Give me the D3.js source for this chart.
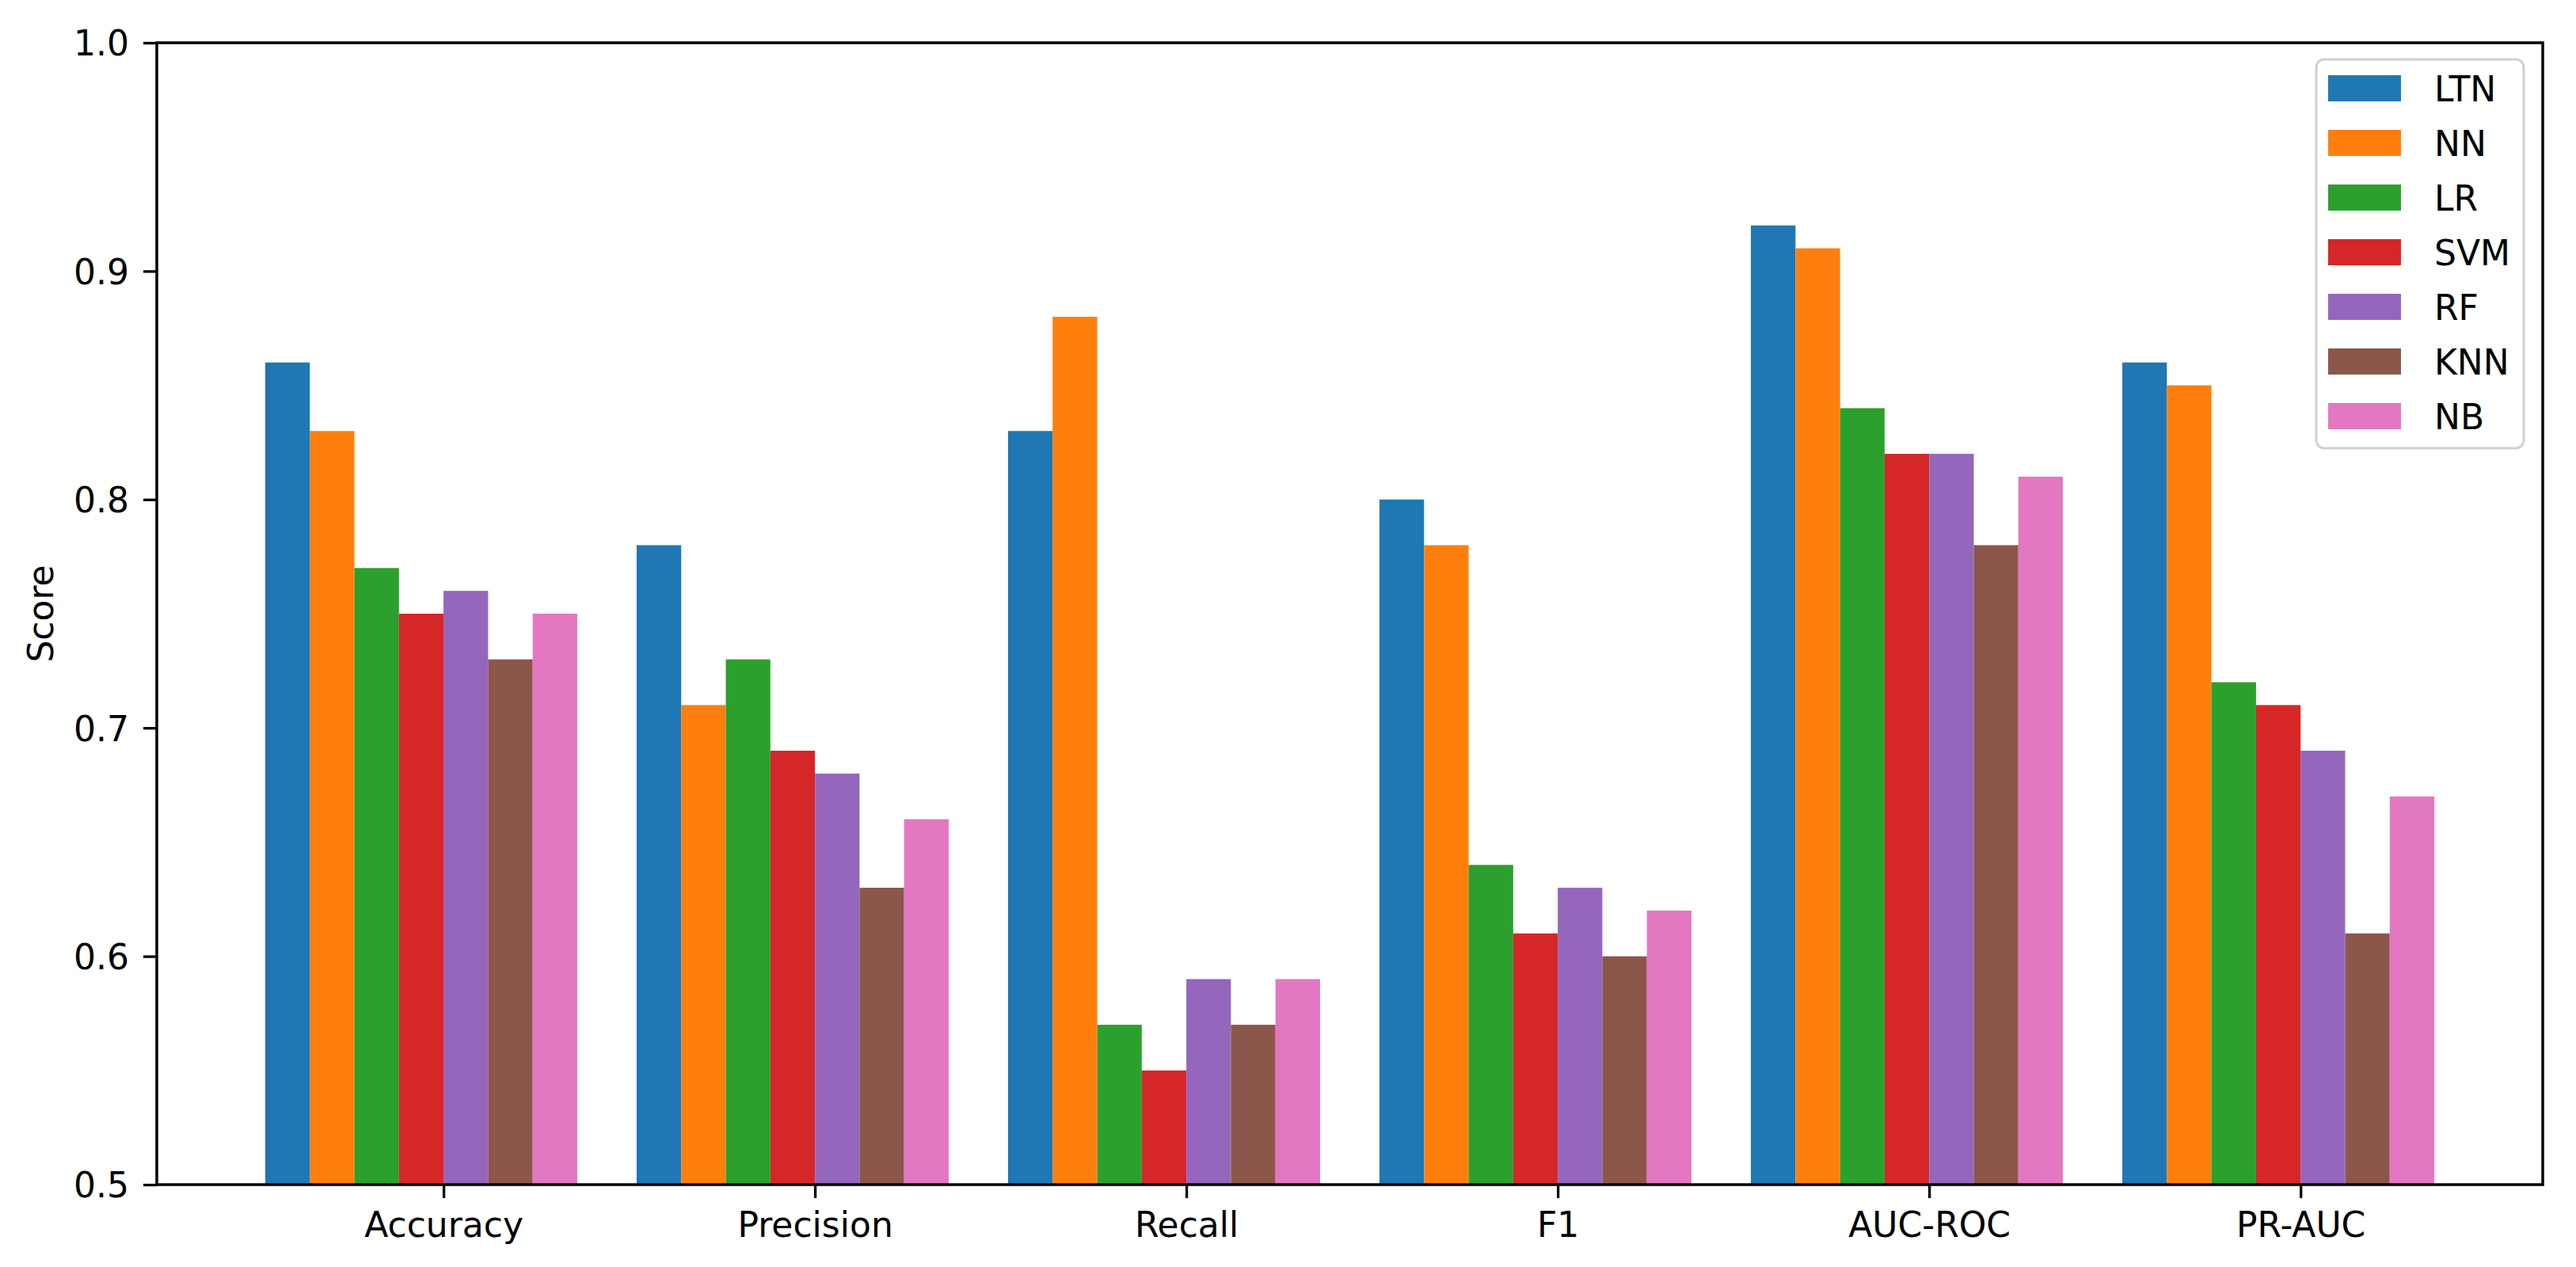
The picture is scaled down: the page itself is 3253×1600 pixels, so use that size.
<!DOCTYPE html>
<html>
<head>
<meta charset="utf-8">
<script src="https://cdn.jsdelivr.net/npm/d3@7"></script>
<style>
  html, body { margin: 0; padding: 0; background: #ffffff; }
  svg { display: block; }
  text { font-family: "DejaVu Sans", sans-serif; fill: #000; }
</style>
</head>
<body>
<svg id="chart" width="3253" height="1600"></svg>
<script>
// ---- data ----
const categories = ["Accuracy", "Precision", "Recall", "F1", "AUC-ROC", "PR-AUC"];
const models = ["LTN", "NN", "LR", "SVM", "RF", "KNN", "NB"];
const colors = ["#1f77b4", "#ff7f0e", "#2ca02c", "#d62728", "#9467bd", "#8c564b", "#e377c2"];
const LTN = [0.86, 0.78, 0.83, 0.80, 0.92, 0.86];
const NN  = [0.83, 0.71, 0.88, 0.78, 0.91, 0.85];
const LR  = [0.77, 0.73, 0.57, 0.64, 0.84, 0.72];
const SVM = [0.75, 0.69, 0.55, 0.61, 0.82, 0.71];
const RF  = [0.76, 0.68, 0.59, 0.63, 0.82, 0.69];
const KNN = [0.73, 0.63, 0.57, 0.60, 0.78, 0.61];
const NB  = [0.75, 0.66, 0.59, 0.62, 0.81, 0.67];
const yTicks = [0.5, 0.6, 0.7, 0.8, 0.9, 1.0];
const yLabel = "Score";

const seriesValues = [LTN, NN, LR, SVM, RF, KNN, NB];

// ---- layout ----
const plotLeft = 198, plotRight = 3211, plotTop = 54, plotBottom = 1496;
const fs = 44;
const barW = 0.12;
const dataMin = -4 * barW;
const dataMax = (categories.length - 1) + 3 * barW;
const pad = 0.05 * (dataMax - dataMin);

const x = d3.scaleLinear().domain([dataMin - pad, dataMax + pad]).range([plotLeft, plotRight]);
const y = d3.scaleLinear().domain([0.5, 1.0]).range([plotBottom, plotTop]);

const svg = d3.select("#chart");

// bars
const barData = [];
seriesValues.forEach((vals, j) => {
  vals.forEach((v, i) => {
    barData.push({ i, j, v });
  });
});
svg.append("g").selectAll("rect").data(barData).join("rect")
  .attr("x", d => x(d.i + (d.j - 4) * barW))
  .attr("width", d => x(d.i + (d.j - 3) * barW) - x(d.i + (d.j - 4) * barW))
  .attr("y", d => y(d.v))
  .attr("height", d => y(0.5) - y(d.v))
  .attr("fill", d => colors[d.j]);

// axes
const yAxis = d3.axisLeft(y).tickValues(yTicks).tickFormat(d3.format(".1f")).tickSize(17).tickPadding(20);
const gy = svg.append("g").attr("transform", `translate(${plotLeft},0)`).call(yAxis);
gy.select(".domain").remove();
gy.selectAll(".tick line").attr("stroke", "#000").attr("stroke-width", 3.3);
gy.selectAll(".tick text").attr("font-size", fs).attr("font-family", "DejaVu Sans")
  .attr("dy", "0.36em").attr("x", -35);

const xAxis = d3.axisBottom(x).tickValues(d3.range(categories.length))
  .tickFormat(i => categories[i]).tickSize(17).tickPadding(0);
const gx = svg.append("g").attr("transform", `translate(0,${plotBottom})`).call(xAxis);
gx.select(".domain").remove();
gx.selectAll(".tick line").attr("stroke", "#000").attr("stroke-width", 3.3);
gx.selectAll(".tick text").attr("font-size", fs).attr("font-family", "DejaVu Sans")
  .attr("y", 66).attr("dy", null);

// frame
svg.append("rect")
  .attr("x", plotLeft).attr("y", plotTop)
  .attr("width", plotRight - plotLeft).attr("height", plotBottom - plotTop)
  .attr("fill", "none").attr("stroke", "#000").attr("stroke-width", 3.5);

// y label
svg.append("text")
  .attr("transform", `translate(67,${(plotTop + plotBottom) / 2}) rotate(-90)`)
  .attr("text-anchor", "middle")
  .attr("font-size", fs)
  .text(yLabel);

// legend
const lgX = 2925, lgY = 75, lgW = 262, lgH = 491;
const lg = svg.append("g");
lg.append("rect")
  .attr("x", lgX).attr("y", lgY).attr("width", lgW).attr("height", lgH)
  .attr("rx", 10).attr("ry", 10)
  .attr("fill", "#ffffff").attr("fill-opacity", 0.8)
  .attr("stroke", "#d0d0d0").attr("stroke-width", 3);
const rowH = 69;
const items = lg.selectAll("g.item").data(models).join("g").attr("class", "item")
  .attr("transform", (d, k) => `translate(0,${128 + k * rowH})`);
items.append("rect")
  .attr("x", 2940).attr("y", -33).attr("width", 92).attr("height", 33)
  .attr("fill", (d, k) => colors[k]);
items.append("text")
  .attr("x", 3074).attr("y", 0)
  .attr("font-size", fs)
  .text(d => d);
</script>
</body>
</html>
